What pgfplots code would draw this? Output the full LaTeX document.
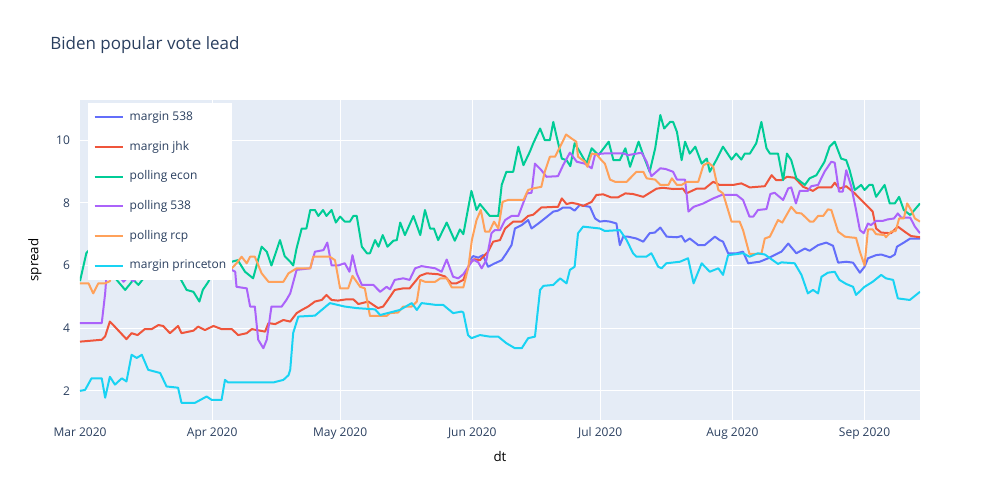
\documentclass[border=0pt]{standalone}
\usepackage{pgfplots}
\pgfplotsset{compat=1.18}
\usepackage{fontspec}
\setmainfont{Open Sans}
\definecolor{textcol}{HTML}{2A3F5F}
\definecolor{plotbg}{HTML}{E5ECF6}
\definecolor{cA}{HTML}{636EFA}
\definecolor{cB}{HTML}{EF553B}
\definecolor{cC}{HTML}{00CC96}
\definecolor{cD}{HTML}{AB63FA}
\definecolor{cE}{HTML}{FFA15A}
\definecolor{cF}{HTML}{19D3F3}
\begin{document}
\begin{tikzpicture}
\path[use as bounding box] (-60pt,-60pt) rectangle (690pt,315pt);
\begin{axis}[
    at={(0pt,0pt)}, anchor=south west,
    scale only axis, width=630pt, height=240pt,
    xmin=0, xmax=197, ymin=1.07, ymax=11.28,
    xtick={0,31,61,92,122,153,184},
    xticklabels={Mar 2020,Apr 2020,May 2020,Jun 2020,Jul 2020,Aug 2020,Sep 2020},
    ytick={2,4,6,8,10},
    axis line style={draw=none},
    major tick length=0pt,
    grid=major,
    major grid style={white, line width=0.75pt},
    axis background/.style={fill=plotbg},
    tick label style={font=\fontsize{9}{11}\selectfont, text=textcol},
    /pgf/number format/assume math mode=true,
    yticklabel style={xshift=-4pt},
    xticklabel style={yshift=-2pt},
    xlabel={dt}, ylabel={spread},
    label style={font=\fontsize{10.5}{12}\selectfont, text=textcol},
    every axis x label/.style={at={(axis description cs:0.5,-0.1156)}, anchor=center},
    every axis y label/.style={at={(axis description cs:-0.0536,0.5)}, rotate=90, anchor=center},
    no markers,
    every axis plot/.append style={line width=1.5pt, line join=round},
    legend cell align=left,
    legend image code/.code={\draw[#1] (0pt,0pt) -- (21pt,0pt);},
    legend style={at={(axis cs:1.9,11.18)}, anchor=north west, fill=white, draw=none,
        font=\fontsize{9}{11}\selectfont, text=textcol,
        inner xsep=4pt, inner ysep=6.3pt, row sep=13.75pt,
        nodes={inner sep=0pt, text height=6.5pt, text depth=2pt},
        /tikz/every odd column/.append style={column sep=4.5pt}},
]
\addplot[cA] coordinates {(91.4,6.17)(92.2,6.3)(93.4,6.25)(94.5,6.33)(95.7,5.96)(97.3,6.07)(98.9,6.17)(100,6.39)(101.2,6.65)(102,7.18)(103.6,7.29)(105.1,7.45)(105.9,7.18)(107.5,7.34)(109,7.5)(111,7.72)(112.1,7.75)(113.3,7.85)(114.9,7.85)(116,7.75)(117.2,7.93)(119.6,7.87)(120.8,7.5)(121.9,7.4)(123.1,7.42)(124.3,7.4)(125.8,7.34)(126.6,6.65)(127.4,6.92)(128.5,6.92)(130.5,6.86)(132.1,6.76)(133.6,7.03)(134.8,7.05)(136.1,7.21)(137.6,6.92)(140,6.9)(141.1,6.94)(141.9,6.76)(143,6.86)(145,6.65)(146.5,6.65)(148.9,6.92)(150,6.81)(150.8,6.76)(152,6.39)(154,6.39)(155.5,6.44)(156.7,6.07)(159.4,6.12)(161.4,6.23)(163.7,6.39)(164.5,6.44)(166.1,6.7)(168,6.39)(170,6.54)(171.1,6.47)(173.1,6.65)(175,6.73)(176.6,6.63)(177.8,6.09)(179.7,6.12)(181.3,6.09)(182.9,5.77)(184,5.96)(184.8,6.23)(186.7,6.33)(187.9,6.35)(190,6.26)(191.1,6.35)(191.6,6.6)(193.2,6.73)(194.7,6.86)(197,6.86)};
\addlegendentry{margin 538}
\addplot[cB] coordinates {(0,3.57)(5.1,3.63)(5.9,3.74)(7,4.21)(7.8,4.1)(10.9,3.65)(12.1,3.84)(13.5,3.78)(15.2,3.97)(16.8,3.97)(18.4,4.1)(19.5,4.07)(21.1,3.84)(23,4.07)(23.8,3.84)(26.6,3.92)(27.7,4.05)(29.3,3.94)(31.3,4.07)(33.2,3.97)(35.6,3.97)(37.1,3.78)(39.1,3.84)(40.3,3.97)(43.4,3.89)(44.2,4.16)(45.8,4.13)(47.7,4.26)(49.3,4.21)(50.8,4.48)(52,4.58)(53.5,4.69)(55.1,4.85)(56.7,4.9)(57.8,5.06)(59,4.9)(60.5,4.88)(62.5,4.92)(64.1,4.92)(65.3,4.77)(67.6,4.85)(69.9,4.64)(71.1,4.69)(72.3,4.92)(73.8,5.22)(75.8,5.27)(77.3,5.27)(79.7,5.67)(81.3,5.75)(84,5.72)(85.6,5.65)(87.1,5.43)(88.3,5.43)(89.9,5.54)(91.4,6.07)(92.5,6.2)(93.8,6.17)(95.7,6.44)(96.9,6.76)(98.5,6.81)(99.7,7.18)(101.6,7.4)(103.6,7.4)(105.1,7.58)(106.3,7.62)(108.2,7.85)(111.4,7.87)(112.1,7.87)(113,8.14)(114.1,7.96)(115.3,8.0)(116.8,7.96)(118,7.9)(120,8.03)(121.1,8.25)(122.7,8.27)(124.6,8.17)(126.1,8.17)(127.9,8.3)(129.7,8.28)(132.1,8.19)(135.2,8.45)(136.7,8.48)(139.1,8.44)(141.4,8.45)(142.2,8.3)(144.6,8.45)(146.5,8.45)(148.5,8.67)(150,8.57)(153.2,8.57)(155.1,8.62)(157.1,8.49)(160.6,8.53)(162.2,8.88)(163.3,8.72)(164.5,8.72)(165.8,8.83)(167.6,8.8)(169.6,8.51)(171.9,8.38)(173.1,8.49)(176.2,8.49)(177,8.64)(178.1,8.45)(179.7,8.53)(181.7,8.3)(183.2,8.09)(184.4,7.93)(185.9,7.72)(186.7,7.18)(187.9,7.05)(190.2,7.03)(191.8,7.24)(193.7,7.05)(194.9,6.94)(197,6.9)};
\addlegendentry{margin jhk}
\addplot[cC] coordinates {(0,5.5)(1.5,6.4)(3,6.6)(4.5,6.2)(6,6.4)(7.5,5.9)(8.6,5.54)(10.6,5.22)(12.5,5.54)(13.7,5.38)(14.9,5.59)(16.5,5.8)(18.4,5.59)(20,5.9)(22,5.7)(23.5,5.59)(25,5.22)(26.6,5.16)(28,4.85)(28.8,5.22)(30.1,5.48)(31.5,5.9)(33.5,6.1)(35.6,6.12)(37,6.17)(38.7,5.8)(40.6,5.59)(42.6,6.6)(43.8,6.44)(44.9,6.0)(46.9,6.81)(48,6.3)(49.3,6.12)(50,6.0)(50.8,6.55)(52,7.18)(53.1,7.18)(54,7.77)(55.1,7.77)(55.9,7.58)(57,7.77)(57.8,7.58)(59,7.77)(60,7.37)(61,7.56)(62.1,7.4)(63.3,7.4)(64.1,7.58)(64.9,7.58)(66.1,6.6)(67.3,6.39)(68,6.39)(69.2,6.81)(70,6.6)(71,6.97)(72.1,6.6)(73.5,6.79)(74.3,6.81)(75.1,7.37)(76.2,6.97)(78.2,7.58)(79.8,6.97)(80.9,7.77)(82.1,7.18)(83,7.18)(84,6.81)(86,7.37)(87.9,6.79)(89.1,7.15)(89.9,7.0)(91.8,8.38)(93,7.77)(93.8,7.96)(96.1,7.58)(98.1,7.58)(98.9,8.57)(100,8.99)(101.6,8.99)(102.8,9.79)(104,9.2)(105.5,9.63)(106.3,9.9)(107.9,10.37)(109,10.0)(110.2,10.0)(111,10.58)(111.8,10.1)(113,9.41)(114.1,9.36)(115,9.17)(116,9.9)(117.2,9.63)(118.8,9.25)(120,9.74)(121.6,9.52)(124,9.95)(125.1,9.36)(126.6,9.36)(127.9,9.74)(129,9.15)(131,9.95)(132.1,9.52)(133.6,8.99)(134.9,9.74)(136.1,10.8)(137,10.37)(138.4,10.58)(139.1,10.58)(140,10.26)(141.1,9.36)(141.9,9.95)(143,9.57)(144.3,9.79)(145.8,9.25)(147,9.41)(147.7,8.99)(149.2,9.36)(150.8,9.79)(152.8,9.38)(153.9,9.57)(155.1,9.38)(155.9,9.57)(157.1,9.57)(158.6,9.9)(159.8,10.58)(161,9.74)(161.8,9.57)(163.7,9.57)(164.9,8.72)(165.8,9.57)(166.8,9.36)(168,8.78)(170,8.57)(171.1,8.78)(172.7,8.88)(174.6,9.31)(175.8,9.79)(177,9.95)(178.5,9.41)(179.7,9.36)(180.5,9.04)(181.7,8.41)(183.2,8.57)(184,8.41)(185.1,8.57)(185.9,8.57)(186.7,8.19)(188.7,8.57)(189.9,7.98)(191.1,7.98)(192.1,8.19)(193.2,7.77)(194.7,7.61)(197,7.98)};
\addlegendentry{polling econ}
\addplot[cD] coordinates {(0,4.16)(5.1,4.16)(5.9,5.11)(6.5,6.2)(8,6.1)(9.4,5.64)(10.2,5.48)(11.3,5.64)(12.5,5.5)(14,5.7)(16,6.0)(20,6.1)(24,6.0)(28,6.2)(32,6.1)(35.6,5.86)(36.4,5.8)(36.7,5.32)(39.1,5.27)(39.9,4.69)(41,4.69)(41.8,3.63)(43,3.36)(43.8,3.63)(44.9,4.69)(47.3,4.69)(48.4,4.9)(49.3,5.11)(50.8,5.86)(54,5.91)(55.1,6.44)(57.1,6.49)(58,6.73)(59,6.0)(60.5,6.0)(62.1,6.07)(63.2,5.8)(63.9,6.33)(64.9,5.75)(66.1,5.38)(68.8,5.38)(70.4,5.16)(71.9,5.32)(72.7,5.24)(73.8,5.54)(75.8,5.59)(77.3,5.54)(78.6,5.91)(80.1,5.98)(83.3,5.91)(84.8,5.8)(86,6.19)(87.5,5.64)(88.7,5.59)(89.9,5.72)(92.2,6.19)(93.4,6.1)(94.2,5.91)(95.3,6.17)(96.5,7.03)(97.3,7.13)(98.5,7.13)(99.7,7.45)(101.2,7.58)(102.8,7.58)(104.8,8.3)(105.9,8.32)(106.7,9.25)(108.2,9.04)(109.4,8.83)(112.1,8.85)(113.3,9.2)(114.9,9.6)(116.5,9.31)(118.4,9.25)(120,9.1)(120.8,9.55)(123.5,9.58)(127.4,9.58)(128.5,9.52)(131.7,9.6)(132.9,9.31)(134,8.85)(136.1,9.1)(137.3,9.08)(139.1,8.99)(140,8.74)(141.9,8.74)(142.7,7.72)(143.9,7.87)(146.2,7.98)(148.5,8.14)(150.5,8.25)(154,8.25)(155.5,8.09)(157,7.56)(157.9,7.56)(159,7.77)(161,7.8)(161.9,8.28)(162.9,8.32)(164.9,8.09)(166.1,8.46)(166.8,8.49)(167.9,7.98)(168.8,8.38)(170.7,8.38)(171.5,8.53)(173.1,8.57)(174.6,8.99)(176.2,9.31)(177,9.28)(178,8.36)(178.9,8.36)(179.7,9.04)(180.9,8.51)(182,7.77)(182.9,7.13)(183.8,7.03)(184.8,7.34)(185.5,7.29)(186.7,7.42)(188.2,7.42)(189.4,7.47)(190.9,7.5)(191.8,7.66)(192.6,7.53)(194.7,7.53)(195.8,7.24)(197,7.03)};
\addlegendentry{polling 538}
\addplot[cE] coordinates {(0,5.43)(2,5.43)(3.1,5.11)(4.3,5.43)(5.9,5.43)(7,5.5)(8,6.0)(12,6.2)(16,6.1)(20,6.3)(24,6.2)(28,6.0)(32,6.1)(34.5,5.8)(35.6,5.91)(36.7,6.07)(37.9,6.28)(39.1,6.07)(39.9,6.28)(41,6.28)(42.6,5.75)(44.2,5.48)(47.7,5.48)(48.9,5.75)(50.8,5.91)(54,5.91)(54.7,6.28)(58.6,6.28)(59.8,6.17)(61,5.27)(62.9,5.27)(63.9,5.67)(65.7,5.32)(66.8,5.27)(68,4.39)(71.9,4.39)(72.7,4.48)(74.6,4.5)(75.8,4.69)(77.8,4.69)(79,4.85)(79.8,5.54)(80.9,5.48)(83.3,5.48)(84.5,5.59)(86,5.59)(87.2,5.3)(89.9,5.3)(91.1,5.96)(91.9,6.81)(93,7.45)(94,7.77)(95,7.08)(96,7.08)(97.1,7.4)(98.1,7.18)(99.1,8.03)(100.4,8.09)(104,8.09)(105.1,8.41)(106.3,8.46)(108.2,8.51)(109,8.99)(110.2,9.47)(111.4,9.47)(112.6,9.79)(114,10.18)(115.3,10.05)(116.4,9.95)(116.8,9.47)(118.4,9.31)(119,9.15)(120,9.57)(121.1,9.55)(122.3,9.36)(123.1,9.25)(124.3,8.74)(125.5,8.67)(128.2,8.67)(130.5,8.99)(132.1,8.99)(132.9,8.78)(134.9,8.74)(136.1,8.57)(138,8.57)(138.8,8.78)(140,8.57)(141.1,8.57)(142.3,8.67)(145,8.67)(146.2,9.2)(147.4,9.28)(148.5,9.15)(149.7,8.41)(150.8,8.3)(152.8,7.4)(154.7,7.4)(155.5,7.13)(157,6.37)(159.8,6.37)(160.6,6.86)(161.8,6.92)(163.7,7.45)(164.7,7.37)(166.8,7.87)(168,7.68)(169.2,7.66)(171.2,7.4)(172,7.4)(173.1,7.58)(174.3,7.58)(175.4,7.79)(176.2,7.77)(177.8,7.08)(179.4,6.92)(180.5,6.9)(182,6.88)(182.9,6.44)(184,6.0)(184.8,7.15)(185.9,7.15)(186.7,7.0)(188.7,6.97)(189,6.9)(190.2,7.08)(191.3,7.1)(192.1,7.5)(193.2,7.5)(194,7.98)(195,7.75)(195.8,7.5)(197,7.4)};
\addlegendentry{polling rcp}
\addplot[cF] coordinates {(0,2.0)(1.2,2.03)(2.7,2.4)(5.1,2.4)(5.9,1.78)(7,2.45)(8.2,2.2)(9.8,2.4)(10.9,2.3)(12.1,3.15)(13.3,3.05)(14.5,3.15)(16,2.67)(18.8,2.57)(20.3,2.14)(23,2.1)(23.8,1.62)(27,1.62)(29.7,1.82)(30.9,1.71)(33.2,1.71)(34,2.35)(34.7,2.27)(45.4,2.27)(47.7,2.35)(48.9,2.5)(49.3,2.67)(50,3.85)(51.2,4.37)(55.1,4.4)(58.6,4.8)(62.1,4.69)(64.9,4.64)(69.2,4.6)(70.4,4.42)(75,4.58)(77.8,4.8)(79,4.58)(80.1,4.8)(83.6,4.74)(85.2,4.74)(87.5,4.48)(89.5,4.53)(89.9,4.5)(91,3.78)(91.8,3.68)(93.8,3.78)(96.1,3.73)(98.1,3.73)(100,3.52)(102,3.36)(103.6,3.36)(105.1,3.68)(106.7,3.73)(107.9,5.22)(108.7,5.35)(111,5.38)(112.6,5.59)(114.1,5.43)(114.9,5.86)(116,5.96)(116.8,7.03)(118,7.24)(121.9,7.18)(123.1,7.1)(126.6,7.13)(128.2,6.81)(129.7,6.39)(130.5,6.28)(132.8,6.28)(134,6.39)(135.6,5.96)(136.4,5.91)(137.5,6.07)(140.7,6.12)(142.6,6.23)(143.9,5.43)(145.8,6.07)(147.7,5.8)(149.7,5.91)(150.8,5.7)(152,6.33)(155.5,6.39)(157,6.28)(159,6.39)(160.6,6.35)(163.7,6.05)(164.5,6.1)(167.6,6.07)(169.2,5.7)(170.7,5.11)(171.9,5.22)(173.1,5.11)(173.9,5.64)(175.4,5.77)(177,5.8)(178.1,5.54)(179.7,5.41)(181.3,5.32)(182,5.06)(184,5.32)(185.9,5.48)(187.9,5.7)(189,5.59)(190.7,5.54)(191.8,4.95)(194.6,4.9)(197,5.16)};
\addlegendentry{margin princeton}
\end{axis}
\node[anchor=west, text=textcol, font=\fontsize{12.75}{15}\selectfont, inner sep=0pt] at (-22.5pt,281.25pt) {Biden popular vote lead};
\end{tikzpicture}
\end{document}
